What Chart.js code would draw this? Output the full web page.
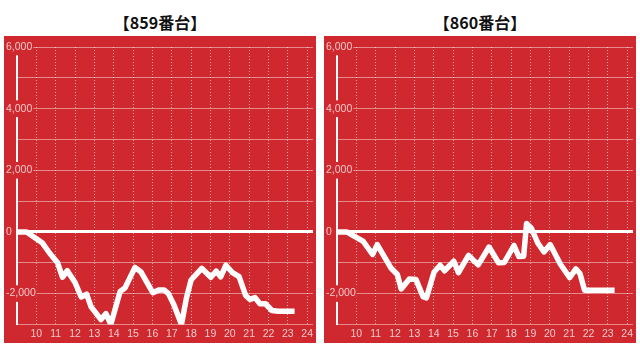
<!DOCTYPE html>
<html>
<head>
<meta charset="utf-8">
<script src="https://cdn.jsdelivr.net/npm/chart.js@4/dist/chart.umd.min.js"></script>
<style>
    body { margin: 0; background: #fff; width: 640px; height: 352px; position: relative; overflow: hidden; }
    .title { position: absolute; top: 12px; width: 312px; text-align: center; font: bold 16px/20px "Noto Sans CJK JP", sans-serif; color: #111; }
    .panel { position: absolute; top: 36px; width: 312px; height: 307px; background: #cf282f; }
</style>
</head>
<body>
<div class="title" style="left:4px">【859番台】</div>
<div class="title" style="left:324px">【860番台】</div>
<div class="panel" style="left:4px"><canvas id="c859"></canvas></div>
<div class="panel" style="left:324px"><canvas id="c860"></canvas></div>
<script>
// hour of day (x) and running difference (y) for each machine
const hours859 = [9, 9.5, 10.3, 10.7, 11.1, 11.35, 11.6, 12.0, 12.32, 12.6, 12.83, 13.34, 13.6, 13.85,
    14.33, 14.58, 15.1, 15.4, 16.02, 16.35, 16.6, 16.83, 17.1, 17.5, 17.76, 18.0, 18.55, 19.02, 19.3,
    19.53, 19.8, 20.12, 20.48, 20.82, 21.05, 21.3, 21.56, 21.84, 22.18, 22.5, 23.35];
const values859 = [0, 0, -350, -700, -1000, -1470, -1260, -1640, -2110, -2020, -2430, -2840, -2650, -3000,
    -1930, -1820, -1150, -1290, -1970, -1880, -1880, -2000, -2350, -3000, -2140, -1560, -1180, -1470, -1270,
    -1460, -1080, -1310, -1450, -2060, -2190, -2130, -2330, -2330, -2550, -2570, -2570];

const hours860 = [9, 9.5, 10.36, 10.84, 11.08, 11.8, 12.12, 12.32, 12.74, 13.08, 13.45, 13.62, 14.02,
    14.33, 14.56, 15.04, 15.28, 15.8, 16.3, 16.86, 17.35, 17.65, 18.15, 18.4, 18.65, 18.8, 19.05, 19.38,
    19.7, 20.02, 20.55, 21.03, 21.35, 21.56, 21.8, 23.35];
const values860 = [0, 0, -310, -730, -410, -1180, -1380, -1850, -1530, -1540, -2100, -2140, -1300,
    -1080, -1260, -950, -1320, -760, -1070, -490, -1000, -990, -440, -800, -790, 270, 120, -360,
    -650, -410, -1050, -1480, -1200, -1350, -1890, -1890];

const xMin = 9, xMax = 24.3;
const yMin = -3000, yMax = 6000, yStep = 1000;

const RED = '#cf282f';
const LABEL = 'rgba(255, 255, 255, 0.75)';

function drawMachine(id, hours, values) {
    const points = hours.map((h, i) => ({ x: h, y: values[i] }));
    return new Chart(document.getElementById(id), {
        type: 'line',
        data: {
            datasets: [{
                data: points,
                borderColor: '#fff',
                borderWidth: 5.5,
                borderJoinStyle: 'round',
                pointRadius: 0,
                tension: 0
            }]
        },
        options: {
            responsive: true,
            maintainAspectRatio: false,
            animation: false,
            layout: { padding: { left: 0, top: 11, right: 0, bottom: 0 } },
            plugins: { legend: { display: false }, tooltip: { enabled: false } },
            scales: {
                x: {
                    type: 'linear',
                    min: xMin,
                    max: xMax,
                    grid: {
                        color: 'rgba(255, 255, 255, 0.6)',
                        lineWidth: 1,
                        drawTicks: false
                    },
                    border: { display: false, dash: [1, 2] },
                    ticks: {
                        stepSize: 1,
                        includeBounds: false,
                        padding: 3,
                        color: LABEL,
                        font: { family: '"Liberation Sans", Arial, sans-serif', size: 10.5 },
                        maxRotation: 0,
                        autoSkip: false,
                        callback: v => (v === 9 ? '' : v)
                    }
                },
                y: {
                    min: yMin,
                    max: yMax,
                    afterFit: scale => { scale.width = 13; },
                    grid: {
                        color: c => (c.tick.value === 0 ? '#fff' : 'rgba(255, 255, 255, 0.45)'),
                        lineWidth: c => (c.tick.value === 0 ? 3 : 1),
                        drawTicks: false
                    },
                    border: { color: '#fff', width: 2 },
                    ticks: {
                        stepSize: yStep,
                        mirror: true,
                        padding: -11,
                        z: 1,
                        color: LABEL,
                        font: { family: '"Liberation Sans", Arial, sans-serif', size: 10.5 },
                        showLabelBackdrop: c => c.tick.value % 2000 === 0,
                        backdropColor: RED,
                        backdropPadding: { x: 1, y: 2 },
                        callback: v => (v % 2000 === 0 ? v.toLocaleString('en-US') : '')
                    }
                }
            }
        }
    });
}

drawMachine('c859', hours859, values859);
drawMachine('c860', hours860, values860);
</script>
</body>
</html>
